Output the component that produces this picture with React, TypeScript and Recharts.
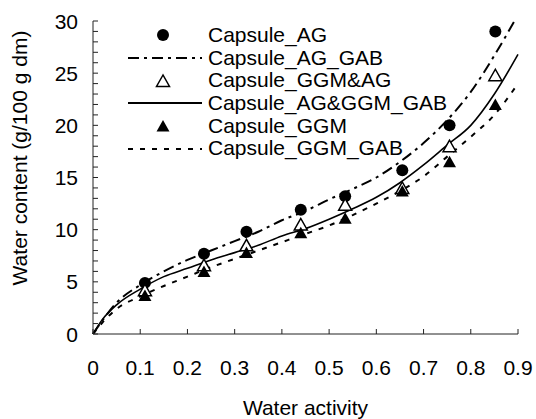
import React from "react";
import { ComposedChart, Line, Scatter, XAxis, YAxis, Legend, Label } from "recharts";

// measured points (water activity vs water content)
const awMeasured = [0.11, 0.235, 0.325, 0.44, 0.534, 0.655, 0.755, 0.852];
const capsuleAG = [4.9, 7.7, 9.8, 11.9, 13.2, 15.7, 20.0, 29.0];
const capsuleGGMAG = [4.2, 6.6, 8.5, 10.5, 12.4, 14.0, 18.0, 24.8];
const capsuleGGM = [3.7, 6.0, 7.8, 9.7, 11.1, 13.7, 16.5, 22.0];

// GAB fitted curves, read off the picture
const awCurve = [0, 0.02, 0.05, 0.1, 0.15, 0.2, 0.25, 0.3, 0.35, 0.4, 0.45, 0.5, 0.55, 0.6, 0.65, 0.7, 0.75, 0.8, 0.85, 0.9];
const agGab = [0, 1.3, 3.0, 4.7, 6.0, 7.1, 8.0, 8.9, 9.8, 10.9, 11.8, 12.9, 13.9, 15.0, 16.5, 18.3, 20.5, 23.2, 26.7, 30.6];
const agGgmGab = [0, 1.4, 2.8, 4.3, 5.5, 6.3, 7.1, 7.8, 8.5, 9.4, 10.1, 11.0, 12.0, 13.1, 14.5, 16.2, 18.1, 20.0, 23.0, 26.8];
const ggmGab = [0, 1.1, 2.4, 3.6, 4.6, 5.5, 6.4, 7.2, 8.0, 8.8, 9.6, 10.4, 11.4, 12.5, 13.7, 15.1, 17.0, 18.9, 21.0, 24.0];

const xTicks = [0, 0.1, 0.2, 0.3, 0.4, 0.5, 0.6, 0.7, 0.8, 0.9];
const yTicks = [0, 1, 2, 3, 4, 5, 6, 7, 8, 9, 10, 11, 12, 13, 14, 15, 16, 17, 18, 19, 20, 21, 22, 23, 24, 25, 26, 27, 28, 29, 30];

const FONT = "'Liberation Sans', Arial, sans-serif";

const toPoints = (xs: number[], ys: number[]) => xs.map((aw, i) => ({ aw, m: ys[i] }));

const CircleDot = (p: any) => <circle cx={p.cx} cy={p.cy} r={6} fill="#000" />;
const triPath = (cx: number, cy: number) => `${cx},${cy - 6} ${cx - 6.5},${cy + 5.5} ${cx + 6.5},${cy + 5.5}`;
const TriFilled = (p: any) => <polygon points={triPath(p.cx, p.cy)} fill="#000" />;
const TriOpen = (p: any) => <polygon points={triPath(p.cx, p.cy)} fill="#fff" stroke="#000" strokeWidth={1.5} />;

const DASH_DOT = "11 5 3 5";
const DOTTED = "5 7";

const legendRows = [
  { name: "Capsule_AG", kind: "circle" },
  { name: "Capsule_AG_GAB", kind: "dashdot" },
  { name: "Capsule_GGM&AG", kind: "openTri" },
  { name: "Capsule_AG&GGM_GAB", kind: "solid" },
  { name: "Capsule_GGM", kind: "tri" },
  { name: "Capsule_GGM_GAB", kind: "dotted" },
];

const LegendIcon = ({ kind }: { kind: string }) => {
  const w = 76;
  const h = 22;
  const c = h / 2;
  if (kind === "circle") return <svg width={w} height={h}><circle cx={36} cy={c} r={6} fill="#000" /></svg>;
  if (kind === "tri") return <svg width={w} height={h}><polygon points={triPath(36, c)} fill="#000" /></svg>;
  if (kind === "openTri") return <svg width={w} height={h}><polygon points={triPath(36, c)} fill="#fff" stroke="#000" strokeWidth={1.5} /></svg>;
  const dash = kind === "dashdot" ? DASH_DOT : kind === "dotted" ? DOTTED : undefined;
  return (
    <svg width={w} height={h}>
      <line x1={1} x2={75} y1={c} y2={c} stroke="#000" strokeWidth={2} strokeDasharray={dash} />
    </svg>
  );
};

const renderLegend = () => (
  <div style={{ fontFamily: FONT, fontSize: 21, color: "#000" }}>
    {legendRows.map((r) => (
      <div key={r.name} style={{ display: "flex", alignItems: "center", height: 22.7, lineHeight: "22.7px" }}>
        <LegendIcon kind={r.kind} />
        <span style={{ marginLeft: 5, whiteSpace: "nowrap" }}>{r.name}</span>
      </div>
    ))}
  </div>
);

const YTick = (p: any) => {
  const v = p.payload.value;
  if (v % 5 !== 0) return null;
  return (
    <text x={p.x} y={p.y} dy="0.36em" textAnchor="end" fontSize={21} fontFamily={FONT} fill="#000">
      {v}
    </text>
  );
};

const XTick = (p: any) => (
  <text x={p.x} y={p.y} dy="0.71em" textAnchor="middle" fontSize={21} fontFamily={FONT} fill="#000">
    {p.payload.value}
  </text>
);

export default function App() {
  return (
    <div style={{ position: "absolute", left: 0, top: 0, background: "#fff" }}>
      <ComposedChart width={536} height={419} margin={{ top: 21, right: 18, left: 0, bottom: 0 }}>
        <XAxis
          type="number"
          dataKey="aw"
          domain={[0, 0.9]}
          ticks={xTicks}
          interval={0}
          tickSize={-5}
          tickMargin={31}
          tick={<XTick />}
          stroke="#222"
          height={85}
        >
          <Label value="Water activity" position="insideBottom" offset={4} fontSize={21} fontFamily={FONT} fill="#000" />
        </XAxis>
        <YAxis
          type="number"
          domain={[0, 30]}
          allowDataOverflow
          ticks={yTicks}
          interval={0}
          tickSize={-5}
          tickMargin={20}
          tick={<YTick />}
          stroke="#222"
          width={93}
        >
          <Label
            content={() => (
              <text transform="translate(27,158) rotate(-90)" textAnchor="middle" fontSize={21} fontFamily={FONT} fill="#000">
                Water content (g/100 g dm)
              </text>
            )}
          />
        </YAxis>
        <Legend
          content={renderLegend}
          layout="vertical"
          align="center"
          verticalAlign="middle"
          wrapperStyle={{ position: "absolute", left: 127, top: 24, width: 320 }}
        />
        <Scatter name="Capsule_AG" data={toPoints(awMeasured, capsuleAG)} dataKey="m" shape={CircleDot} isAnimationActive={false} />
        <Line name="Capsule_AG_GAB" data={toPoints(awCurve, agGab)} dataKey="m" type="monotone" stroke="#000" strokeWidth={2} strokeDasharray={DASH_DOT} dot={false} activeDot={false} isAnimationActive={false} />
        <Scatter name="Capsule_GGM&AG" data={toPoints(awMeasured, capsuleGGMAG)} dataKey="m" shape={TriOpen} isAnimationActive={false} />
        <Line name="Capsule_AG&GGM_GAB" data={toPoints(awCurve, agGgmGab)} dataKey="m" type="monotone" stroke="#000" strokeWidth={1.6} dot={false} activeDot={false} isAnimationActive={false} />
        <Scatter name="Capsule_GGM" data={toPoints(awMeasured, capsuleGGM)} dataKey="m" shape={TriFilled} isAnimationActive={false} />
        <Line name="Capsule_GGM_GAB" data={toPoints(awCurve, ggmGab)} dataKey="m" type="monotone" stroke="#000" strokeWidth={2} strokeDasharray={DOTTED} dot={false} activeDot={false} isAnimationActive={false} />
      </ComposedChart>
    </div>
  );
}
